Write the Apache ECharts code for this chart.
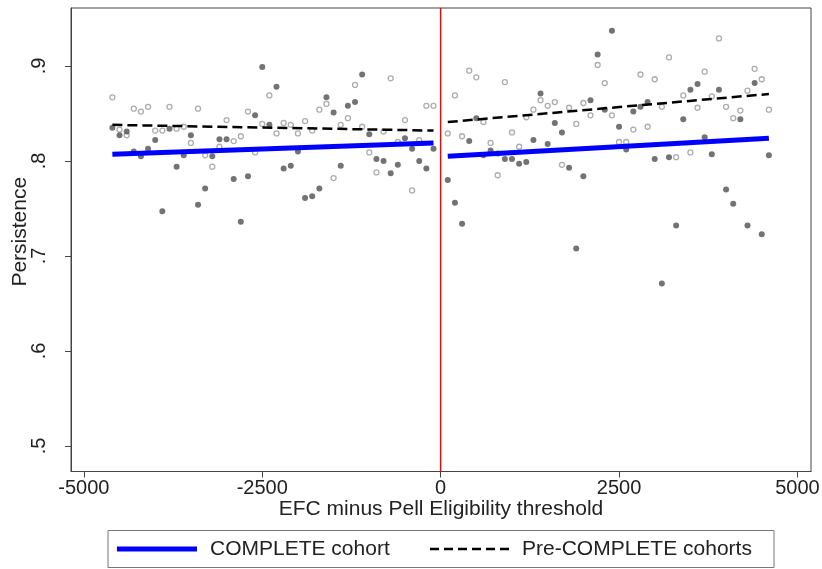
<!DOCTYPE html>
<html>
<head>
<meta charset="utf-8">
<script src="https://cdn.jsdelivr.net/npm/echarts@6/dist/echarts.min.js"></script>
<style>html,body{margin:0;padding:0;background:#fff;}#c{width:822px;height:569px;}</style>
</head>
<body>
<div id="c"></div>
<script>
// Bins (EFC minus Pell threshold)
const leftX = [-4600,-4500,-4400,-4300,-4200,-4100,-4000,-3900,-3800,-3700,-3600,-3500,-3400,-3300,-3200,-3100,-3000,-2900,-2800,-2700,-2600,-2500,-2400,-2300,-2200,-2100,-2000,-1900,-1800,-1700,-1600,-1500,-1400,-1300,-1200,-1100,-1000,-900,-800,-700,-600,-500,-400,-300,-200,-100];
const rightX = [100,200,300,400,500,600,700,800,900,1000,1100,1200,1300,1400,1500,1600,1700,1800,1900,2000,2100,2200,2300,2400,2500,2600,2700,2800,2900,3000,3100,3200,3300,3400,3500,3600,3700,3800,3900,4000,4100,4200,4300,4400,4500,4600];

// COMPLETE cohort (filled dots)
const completeLeft = [0.835,0.827,0.831,0.810,0.805,0.813,0.822,0.747,0.834,0.794,0.806,0.827,0.754,0.771,0.805,0.823,0.823,0.781,0.736,0.784,0.848,0.899,0.838,0.878,0.792,0.795,0.810,0.761,0.763,0.771,0.867,0.851,0.795,0.858,0.862,0.891,0.828,0.802,0.800,0.787,0.796,0.824,0.813,0.800,0.792,0.813];
const completeRight = [0.780,0.756,0.734,0.821,0.845,0.806,0.811,0.808,0.802,0.802,0.797,0.799,0.822,0.871,0.818,0.840,0.830,0.793,0.708,0.784,0.864,0.912,0.854,0.937,0.836,0.812,0.852,0.857,0.862,0.802,0.671,0.804,0.732,0.844,0.875,0.881,0.825,0.807,0.875,0.770,0.755,0.844,0.732,0.882,0.723,0.806];

// Pre-COMPLETE cohorts (hollow circles)
const preLeft = [0.867,0.833,0.827,0.855,0.852,0.857,0.832,0.832,0.857,0.834,0.836,0.819,0.855,0.806,0.794,0.815,0.843,0.821,0.826,0.852,0.809,0.839,0.869,0.829,0.840,0.838,0.829,0.842,0.832,0.854,0.860,0.782,0.838,0.845,0.880,0.836,0.809,0.788,0.831,0.887,0.820,0.843,0.769,0.822,0.858,0.858];
const preRight = [0.829,0.869,0.826,0.895,0.888,0.841,0.819,0.785,0.883,0.830,0.815,0.846,0.854,0.864,0.858,0.862,0.796,0.856,0.839,0.861,0.848,0.901,0.882,0.848,0.820,0.820,0.833,0.891,0.836,0.886,0.857,0.909,0.804,0.869,0.809,0.856,0.894,0.868,0.929,0.857,0.845,0.853,0.874,0.897,0.886,0.854];

// Linear fit endpoints
const fitLeftX = [-4600, -100];
const fitRightX = [100, 4600];
const fitCompleteLeft = [0.807, 0.819];
const fitCompleteRight = [0.805, 0.824];
const fitPreLeft = [0.838, 0.832];
const fitPreRight = [0.841, 0.8705];

const xTicks = [-5000, -2500, 0, 2500, 5000];
const yTicks = [0.5, 0.6, 0.7, 0.8, 0.9];
const threshold = 0;
const yMin = 0.4732, yMax = 0.961;

const names = ['COMPLETE cohort', 'Pre-COMPLETE cohorts'];

function zip(xs, ys) { return xs.map((x, i) => [x, ys[i]]); }

const chart = echarts.init(document.getElementById('c'), null, {renderer: 'canvas'});
const FONT = '"Liberation Sans", Arial, sans-serif';

chart.setOption({
  animation: false,
  backgroundColor: '#fff',
  grid: {left: 71, right: 11, top: 8, bottom: 97.5, show: true, borderColor: '#444', borderWidth: 1,
    containLabel: false, outerBoundsMode: 'none'},
  xAxis: {
    type: 'value', min: -5180, max: 5190,
    name: 'EFC minus Pell Eligibility threshold', nameLocation: 'middle', nameGap: 27, nameMoveOverlap: false,
    nameTextStyle: {fontFamily: FONT, fontSize: 21, color: '#222'},
    axisLine: {show: true, onZero: false, lineStyle: {color: '#444', width: 1}},
    axisTick: {show: true, length: 6, customValues: xTicks, lineStyle: {color: '#444'}},
    axisLabel: {customValues: xTicks, fontFamily: FONT, fontSize: 20, color: '#222', margin: 7,
      formatter: v => String(v)},
    splitLine: {show: false}
  },
  yAxis: {
    type: 'value', min: yMin, max: yMax,
    name: 'Persistence', nameLocation: 'middle', nameGap: 40, nameMoveOverlap: false,
    nameTextStyle: {fontFamily: FONT, fontSize: 21, color: '#222', padding: [0, 0, 0, 16]},
    axisLine: {show: true, onZero: false, lineStyle: {color: '#444', width: 1}},
    axisTick: {show: true, length: 6, customValues: yTicks, lineStyle: {color: '#444'}},
    axisLabel: {customValues: yTicks, rotate: 90, fontFamily: FONT, fontSize: 20, color: '#222', margin: 22,
      formatter: v => String(Math.round(v * 10) / 10).replace('0.', '.')},
    splitLine: {show: false}
  },
  series: [
    {type: 'scatter', name: names[1] + ' points', data: zip(leftX, preLeft).concat(zip(rightX, preRight)),
      symbol: 'circle', symbolSize: 5, itemStyle: {color: '#fff', borderColor: '#999', borderWidth: 1.3}, z: 2, silent: true},
    {type: 'scatter', name: names[0] + ' points', data: zip(leftX, completeLeft).concat(zip(rightX, completeRight)),
      symbol: 'circle', symbolSize: 6, itemStyle: {color: '#505050'}, z: 3, silent: true},
    {type: 'line', name: 'threshold', data: [[threshold, yMin], [threshold, yMax]], showSymbol: false, symbol: 'none',
      lineStyle: {color: '#ff0000', width: 1.5}, z: 4, silent: true},
    {type: 'line', name: names[1], data: zip(fitLeftX, fitPreLeft), showSymbol: false, symbol: 'none',
      lineStyle: {color: '#000', width: 2.5, type: [10, 5]}, z: 5, silent: true},
    {type: 'line', name: names[1], data: zip(fitRightX, fitPreRight), showSymbol: false, symbol: 'none',
      lineStyle: {color: '#000', width: 2.5, type: [10, 5]}, z: 5, silent: true},
    {type: 'line', name: names[0], data: zip(fitLeftX, fitCompleteLeft), showSymbol: false, symbol: 'none',
      lineStyle: {color: '#0000ff', width: 5}, z: 6, silent: true},
    {type: 'line', name: names[0], data: zip(fitRightX, fitCompleteRight), showSymbol: false, symbol: 'none',
      lineStyle: {color: '#0000ff', width: 5}, z: 6, silent: true}
  ],
  graphic: [
    {type: 'rect', shape: {x: 108, y: 530.5, width: 666, height: 37}, style: {fill: '#fff', stroke: '#777', lineWidth: 1}},
    {type: 'line', shape: {x1: 117, y1: 549, x2: 197, y2: 549}, style: {stroke: '#0000ff', lineWidth: 5}},
    {type: 'text', x: 210, y: 549, style: {text: names[0], fontFamily: FONT, fontSize: 21, fill: '#222', verticalAlign: 'middle'}},
    {type: 'line', shape: {x1: 430, y1: 549, x2: 509, y2: 549}, style: {stroke: '#000', lineWidth: 2.5, lineDash: [9, 5]}},
    {type: 'text', x: 522, y: 549, style: {text: names[1], fontFamily: FONT, fontSize: 21, fill: '#222', verticalAlign: 'middle'}}
  ]
});
</script>
</body>
</html>
